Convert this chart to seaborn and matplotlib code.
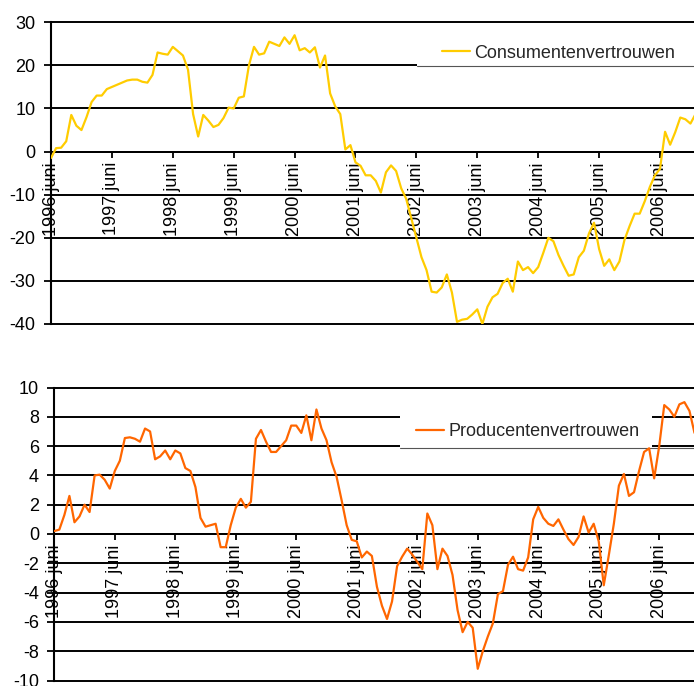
import numpy as np
import pandas as pd
import matplotlib
matplotlib.use("Agg")
import matplotlib.pyplot as plt
from matplotlib.patches import Rectangle
from matplotlib.lines import Line2D
import seaborn as sns

# Monthly indicators, June 1996 onwards
consumentenvertrouwen = [
    -1.5, 0.8, 0.9, 2.4, 8.5, 6.0, 5.0, 8.0, 11.5, 13.0,
    13.0, 14.5, 15.0, 15.5, 16.0, 16.5, 16.7, 16.7, 16.2, 16.0,
    17.8, 23.0, 22.7, 22.5, 24.3, 23.3, 22.3, 19.0, 8.7, 3.5,
    8.5, 7.2, 5.7, 6.2, 7.8, 10.2, 10.0, 12.5, 12.8, 20.0,
    24.3, 22.5, 22.8, 25.5, 25.0, 24.5, 26.5, 25.0, 27.0, 23.5,
    24.0, 23.0, 24.2, 19.5, 22.3, 13.5, 10.5, 8.7, 0.5, 1.5,
    -2.5, -3.3, -5.5, -5.5, -6.8, -9.5, -4.8, -3.2, -4.5, -8.5,
    -11.0, -15.5, -20.0, -24.5, -27.5, -32.5, -32.7, -31.5, -28.5, -32.7,
    -39.5, -39.0, -38.8, -37.8, -36.6, -40.0, -36.0, -33.8, -33.0, -30.5,
    -29.5, -32.5, -25.5, -27.5, -26.8, -28.2, -26.8, -23.5, -20.0, -20.8,
    -24.0, -26.5, -28.8, -28.5, -24.5, -23.0, -19.0, -16.5, -22.6, -26.5,
    -25.0, -27.5, -25.5, -20.5, -17.3, -14.4, -14.4, -11.5, -8.2, -5.5,
    -4.0, 4.6, 1.6, 4.5, 7.9, 7.5, 6.5, 8.7,
]

producentenvertrouwen = [
    0.2, 0.3, 1.3, 2.6, 0.8, 1.2, 2.0, 1.5, 4.0, 4.05,
    3.7, 3.1, 4.3, 5.0, 6.55, 6.6, 6.5, 6.3, 7.2, 7.0,
    5.1, 5.3, 5.7, 5.1, 5.7, 5.5, 4.5, 4.3, 3.2, 1.1,
    0.5, 0.6, 0.7, -0.9, -0.9, 0.6, 1.8, 2.4, 1.8, 2.2,
    6.5, 7.1, 6.3, 5.6, 5.6, 6.0, 6.4, 7.4, 7.4, 6.9,
    8.1, 6.4, 8.5, 7.2, 6.4, 4.9, 3.9, 2.3, 0.6, -0.4,
    -0.5, -1.6, -1.2, -1.5, -3.6, -4.9, -5.8, -4.6, -2.2, -1.55,
    -1.0, -1.4, -1.9, -2.4, 1.4, 0.6, -2.4, -1.0, -1.5, -2.8,
    -5.2, -6.7, -6.0, -6.4, -9.2, -8.0, -7.0, -6.1, -4.1, -3.9,
    -2.1, -1.55, -2.4, -2.5, -1.6, 1.0, 1.85, 1.1, 0.7, 0.55,
    1.0, 0.3, -0.35, -0.75, -0.2, 1.2, 0.1, 0.7, -0.5, -3.5,
    -1.45, 0.7, 3.3, 4.1, 2.6, 2.85, 4.3, 5.6, 5.85, 3.8,
    6.0, 8.8, 8.5, 8.0, 8.85, 9.0, 8.4, 6.9,
]

maanden = pd.date_range("1996-06-01", periods=len(consumentenvertrouwen), freq="MS")
tick_labels = [f"{jaar} juni" for jaar in range(1996, 2007)]

sns.set_theme(style="white")
plt.rcParams["font.family"] = ["Liberation Sans", "DejaVu Sans"]

W, H = 694, 686
fig = plt.figure(figsize=(W / 100, H / 100), dpi=100)


def fx(px):
    return px / W


def fy(py):
    return 1 - py / H


def panel(values, color, label, ylim, ystep, box, xright, handle_xy, legend_box, legend_rule):
    left, top, right, bottom = box
    ax = fig.add_axes([fx(left), fy(bottom), fx(right - left), (bottom - top) / H])
    df = pd.DataFrame({"maand": np.arange(len(values)), "waarde": values, "datum": maanden})
    sns.lineplot(data=df, x="maand", y="waarde", color=color, linewidth=1.6,
                 ax=ax, zorder=3, legend=False)
    ax.set_xlim(0, xright)
    ax.set_ylim(*ylim)
    ax.set_xlabel("")
    ax.set_ylabel("")
    ax.set_axisbelow(True)

    # category axis crosses the value axis at zero
    for s in ("top", "right"):
        ax.spines[s].set_visible(False)
    ax.spines["left"].set_color("black")
    ax.spines["left"].set_linewidth(1.5)
    ax.spines["bottom"].set_position(("data", 0))
    ax.spines["bottom"].set_color("black")
    ax.spines["bottom"].set_linewidth(1.4)

    yticks = np.arange(ylim[0], ylim[1] + ystep / 2, ystep)
    ax.set_yticks(yticks)
    ax.set_yticklabels([f"{int(v)}" for v in yticks], fontsize=13)
    for v in yticks:
        ax.axhline(v, color="black", linewidth=1.4, zorder=1, clip_on=False)

    xt = np.arange(0, len(values), 12)[: len(tick_labels)]
    ax.set_xticks(xt)
    ax.set_xticklabels(tick_labels, fontsize=13)

    ax.tick_params(axis="y", left=True, direction="out", length=5, width=1.3,
                   color="black", labelcolor="black", pad=6)
    ax.tick_params(axis="x", bottom=True, direction="out", length=4.5, width=1.3,
                   color="black", labelcolor="black", pad=3, labelrotation=90)

    # legend backdrop and its lower rule
    bx0, by0, bx1, by1 = legend_box
    ax.add_artist(Rectangle((fx(bx0), fy(by1)), fx(bx1 - bx0), (by1 - by0) / H,
                            transform=fig.transFigure, facecolor="white",
                            edgecolor="none", zorder=2, clip_on=False))
    rx0, ry = legend_rule
    ax.add_artist(Line2D([fx(rx0), 1.0], [fy(ry), fy(ry)], transform=fig.transFigure,
                         color="#555555", linewidth=0.8, zorder=2.1, clip_on=False))

    handle = Line2D([], [], color=color, linewidth=1.6)
    ax.legend(handles=[handle], labels=[label], loc="center left",
              bbox_to_anchor=(fx(handle_xy[0]), fy(handle_xy[1])),
              bbox_transform=fig.transFigure, frameon=False, borderaxespad=0,
              borderpad=0, handlelength=1.55, handletextpad=0.25, fontsize=13)
    return ax


panel(consumentenvertrouwen, "#FFCC00", "Consumentenvertrouwen",
      (-40, 30), 10, (51, 22.3, 694, 324), 126.7,
      (441.7, 53), (417, 24, 700, 65.8), (417, 65.8))

panel(producentenvertrouwen, "#FF6600", "Producentenvertrouwen",
      (-10, 10), 2, (54.3, 387.5, 694, 680.5), 126.9,
      (416, 432), (400, 400, 652, 447.6), (400, 447.6))

fig.savefig("out.png", dpi=100)
